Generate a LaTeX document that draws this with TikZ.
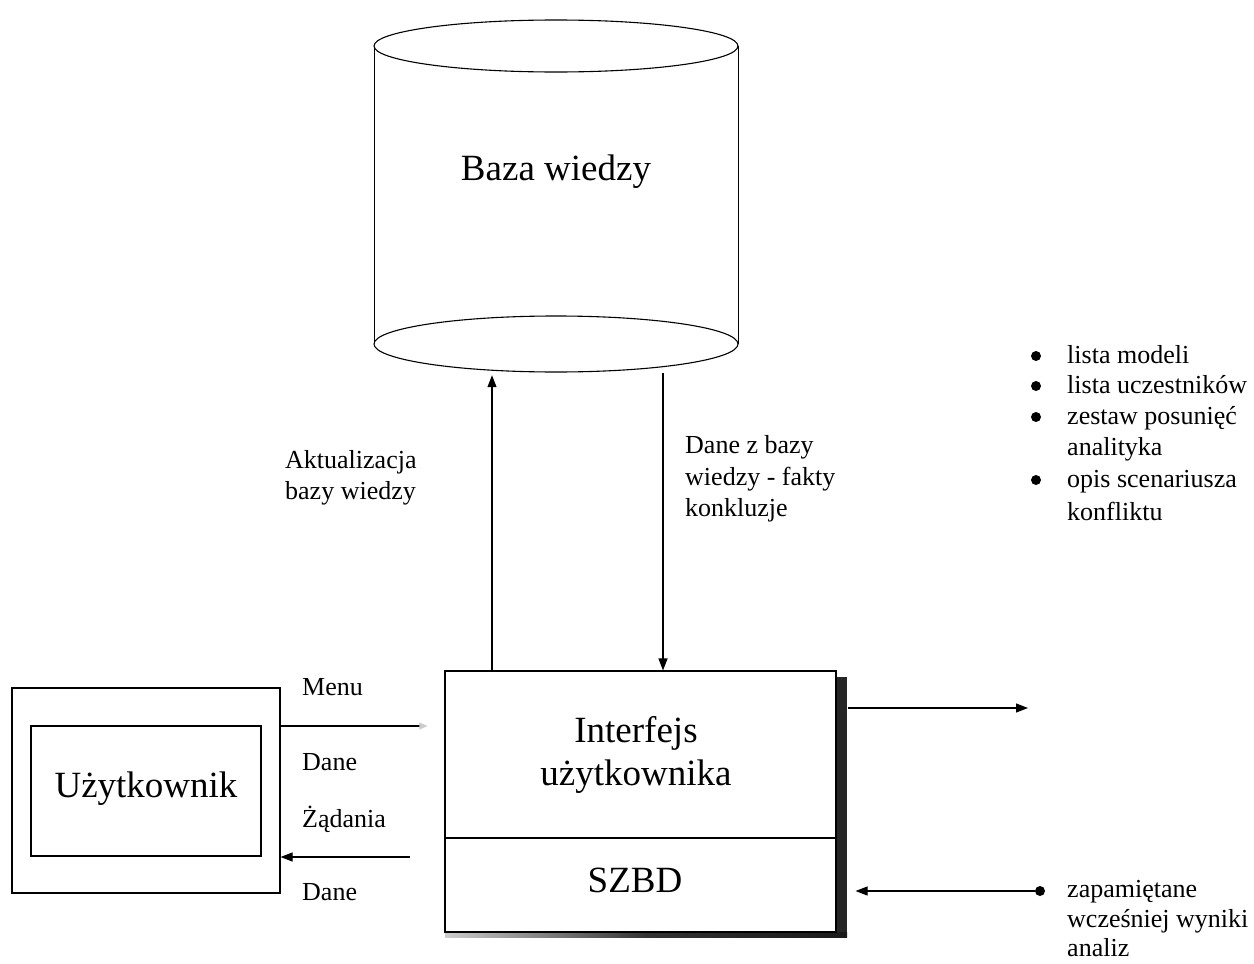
\documentclass[tikz,border=0pt]{standalone}
\usepackage{fontspec}
\setmainfont{Liberation Serif}
\usetikzlibrary{arrows.meta}
\begin{document}
\begin{tikzpicture}[x=1pt,y=-1pt,
  big/.style={font=\fontsize{37}{43}\selectfont, inner sep=0pt, anchor=base},
  small/.style={font=\fontsize{26}{31}\selectfont, inner sep=0pt, anchor=base west},
  conn/.style={line width=1.1pt, -{Triangle[length=12pt,width=9pt]}},
  plain/.style={line width=1.1pt},
  boxnode/.style={draw, line width=1.1pt, inner sep=0pt},
  dot/.style={circle, fill=black, inner sep=0pt, minimum size=10pt}
]
\useasboundingbox (0,0) rectangle (1254,964);

% ---- cylinder "Baza wiedzy"
\node[inner sep=0pt, minimum width=364pt, minimum height=352pt] (db) at (556,196) {};
\draw[line width=1pt] (374,46) -- (374,344);
\draw[line width=1pt] (738,46) -- (738,344);
\draw[line width=1.1pt, fill=white] (556,46) ellipse [x radius=182, y radius=26];
\draw[line width=1.1pt] (556,344) ellipse [x radius=182, y radius=28];
\node[big] (dbtext) at (556,180) {Baza wiedzy};

% ---- user
\node[boxnode, minimum width=268pt, minimum height=205pt] (outer) at (146,790.5) {};
\node[boxnode, minimum width=230pt, minimum height=130pt] (user) at (146,791) {};
\node[big] (usertext) at (146,797) {Użytkownik};

% ---- interface + SZBD with shadow
\fill[black!85] (836,677) rectangle (847,937);
\shade[left color=black!20, right color=black!90, middle color=black!80] (445,932) rectangle (847,937);
\node[boxnode, fill=white, minimum width=391pt, minimum height=167pt] (ui) at (640.5,754.5) {};
\node[boxnode, fill=white, minimum width=391pt, minimum height=94pt] (szbd) at (640.5,885) {};
\node[big] (uit1) at (636,742) {Interfejs};
\node[big] (uit2) at (636,785) {użytkownika};
\node[big] (szbdt) at (635,892) {SZBD};

% ---- arrows between database and interface
\coordinate (upx) at (492,0);
\coordinate (dnx) at (663,0);
\draw[conn, shorten >=3pt] (ui.north -| upx) -- (db.south -| upx);
\draw[conn, shorten <=1pt] (db.south -| dnx) -- (ui.north -| dnx);
\node[small] (ak1) at (285,468) {Aktualizacja};
\node[small] (ak2) at (285,499) {bazy wiedzy};
\node[small] (dz1) at (685,453) {Dane z bazy};
\node[small] (dz2) at (685,485) {wiedzy - fakty};
\node[small] (dz3) at (685,516) {konkluzje};

% ---- user <-> interface
\coordinate (menuy) at (0,726);
\coordinate (reqs) at (410,857);
\draw[plain, -{Triangle[length=8pt,width=7pt,color=black!20]}, shorten >=17pt] (outer.east |- menuy) -- (ui.west |- menuy);
\draw[conn] (reqs) -- (outer.east |- reqs);
\node[small] (l1) at (302,695) {Menu};
\node[small] (l2) at (302,770) {Dane};
\node[small] (l3) at (302,827) {Żądania};
\node[small] (l4) at (302,900) {Dane};

% ---- right side
\coordinate (outa) at (1028,708);
\draw[conn] ([xshift=11pt]ui.east |- outa) -- (outa);
\node[dot] (b5) at (1040,891) {};
\draw[conn, shorten >=19pt] (b5) -- (szbd.east |- b5);
\node[small] (z1) at (1067,897) {zapamiętane};
\node[small] (z2) at (1067,927) {wcześniej wyniki};
\node[small] (z3) at (1067,956) {analiz};

% ---- bullet list
\node[dot] (b1) at (1036,356) {};
\node[dot] (b2) at (1036,386) {};
\node[dot] (b3) at (1036,417) {};
\node[dot] (b4) at (1036,480) {};
\node[small] (t1) at (1067,363) {lista modeli};
\node[small] (t2) at (1067,393) {lista uczestników};
\node[small] (t3) at (1067,424) {zestaw posunięć};
\node[small] (t3b) at (1067,455) {analityka};
\node[small] (t4) at (1067,487) {opis scenariusza};
\node[small] (t4b) at (1067,520) {konfliktu};
\end{tikzpicture}
\end{document}
